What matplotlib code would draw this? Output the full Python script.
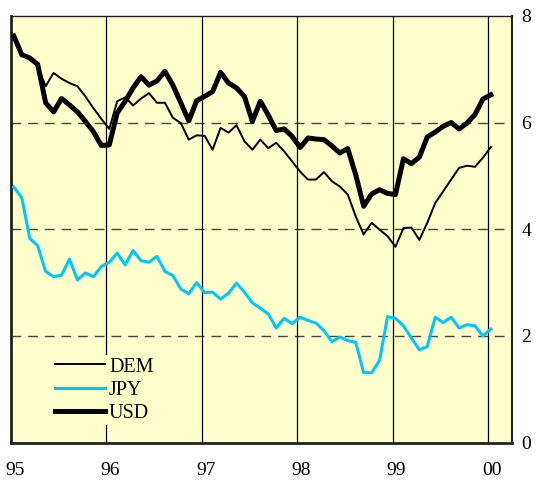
import numpy as np
import matplotlib
matplotlib.use('Agg')
import matplotlib.pyplot as plt
from matplotlib.transforms import ScaledTranslation

plt.rcParams['font.family'] = ['Liberation Serif', 'DejaVu Serif']

# monthly values, Jan 1995 .. Jan 2000
dem = [7.60, 7.25, 7.20, 7.05, 6.68, 6.93, 6.82, 6.74, 6.68, 6.49, 6.27, 6.07, 5.88,
       6.40, 6.47, 6.32, 6.45, 6.55, 6.37, 6.37, 6.09, 5.99, 5.68, 5.76,
       5.75, 5.49, 5.90, 5.81, 5.95, 5.65, 5.49, 5.68, 5.52, 5.62, 5.46, 5.27,
       5.08, 4.93, 4.93, 5.07, 4.90, 4.80, 4.65, 4.24, 3.90, 4.12, 3.99, 3.87,
       3.67, 4.02, 4.03, 3.80, 4.12, 4.49, 4.71, 4.93, 5.15, 5.19, 5.17, 5.34,
       5.54]
jpy = [4.79, 4.59, 3.83, 3.69, 3.21, 3.11, 3.14, 3.44, 3.05, 3.18, 3.11, 3.30,
       3.38, 3.55, 3.33, 3.60, 3.41, 3.38, 3.49, 3.21, 3.13, 2.88, 2.79, 3.00,
       2.81, 2.82, 2.69, 2.80, 2.99, 2.82, 2.62, 2.52, 2.41, 2.15, 2.33, 2.23,
       2.35, 2.29, 2.24, 2.10, 1.89, 1.98, 1.91, 1.88, 1.31, 1.31, 1.54, 2.36,
       2.33, 2.19, 1.96, 1.74, 1.80, 2.35, 2.25, 2.35, 2.15, 2.21, 2.19, 2.00,
       2.13]
usd = [7.62, 7.27, 7.21, 7.09, 6.37, 6.20, 6.45, 6.33, 6.20, 6.02, 5.83, 5.57,
       5.58, 6.18, 6.40, 6.65, 6.86, 6.70, 6.78, 6.96, 6.70, 6.37, 6.03, 6.41,
       6.49, 6.58, 6.94, 6.74, 6.65, 6.49, 6.02, 6.40, 6.14, 5.85, 5.88, 5.74,
       5.53, 5.71, 5.69, 5.68, 5.56, 5.43, 5.51, 5.02, 4.43, 4.66, 4.74, 4.67,
       4.65, 5.32, 5.23, 5.35, 5.73, 5.82, 5.93, 6.00, 5.88, 5.99, 6.15, 6.44,
       6.52]
years = [95, 96, 97, 98, 99, 100]
year_labels = ['95', '96', '97', '98', '99', '00']

x = 95.03 + np.arange(len(usd)) / 12.0

fig = plt.figure(figsize=(5.36, 4.80), dpi=100)
ax = fig.add_axes([0.0205, 0.078, 0.9345, 0.889])
ax.set_facecolor('#ffffcc')

for yv in [2, 4, 6]:
    ax.axhline(yv, color='#444444', lw=1, ls=(0, (7, 5)), zorder=1)
for xv in years[1:]:
    ax.axvline(xv, color='black', lw=0.9, zorder=1)

ax.plot(x, dem, color='black', lw=1.4, label='DEM', zorder=3)
ax.plot(x, jpy, color='#00c8ff', lw=2.2, label='JPY', zorder=3)
ax.plot(x, usd, color='black', lw=3.6, label='USD', zorder=4)

ax.set_xlim(95, 100.25)
ax.set_ylim(0, 8)
ax.set_xticks(years)
ax.set_xticklabels(year_labels)
ax.set_yticks([0, 2, 4, 6, 8])
ax.yaxis.tick_right()
ax.tick_params(axis='both', length=0, labelsize=14)
ax.tick_params(axis='x', pad=14)
ax.tick_params(axis='y', pad=7)
shift = ScaledTranslation(4 / 100, 0, fig.dpi_scale_trans)
for lab in ax.get_xticklabels():
    lab.set_transform(lab.get_transform() + shift)
for s in ax.spines.values():
    s.set_color('#222222')
ax.spines['left'].set_linewidth(2)
ax.spines['bottom'].set_linewidth(2)
ax.spines['right'].set_linewidth(1.5)
ax.spines['top'].set_linewidth(1)

leg = ax.legend(loc='lower left', bbox_to_anchor=(0.063, 0.018), frameon=True,
                facecolor='#ffffcc', edgecolor='none', framealpha=1,
                fontsize=14.5, handlelength=2.5, handletextpad=0.2,
                labelspacing=0.2, borderpad=0.1, fancybox=False)

fig.savefig('out.png', dpi=100)
